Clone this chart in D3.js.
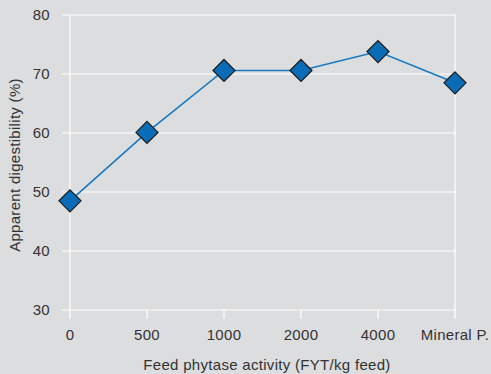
<!DOCTYPE html>
<html><head><meta charset="utf-8">
<script src="https://cdn.jsdelivr.net/npm/d3@7"></script>
<style>
html,body{margin:0;padding:0;background:#dcdddf;}
svg{display:block;font-family:"Liberation Sans",Arial,sans-serif;}
</style></head>
<body>
<svg id="chart" width="491" height="374"></svg>
<script>
const categories = ["0","500","1000","2000","4000","Mineral P."];
const values = [48.5, 60.1, 70.6, 70.6, 73.8, 68.5];
const yTicks = [30,40,50,60,70,80];
const xTitle = "Feed phytase activity (FYT/kg feed)";
const yTitle = "Apparent digestibility (%)";

(function(){
const svg = d3.select("#chart");
const mLeft = 70, mRight = 455, mTop = 15, mBottom = 310;
const x = d3.scalePoint().domain(categories).range([mLeft, mRight]);
const y = d3.scaleLinear().domain([30, 80]).range([mBottom, mTop]);
const textColor = "#333";
const fs = 15, ls = "0.3px";

// horizontal gridlines
svg.append("g").selectAll("line").data(yTicks).join("line")
  .attr("x1", mLeft - 8).attr("x2", mRight + 1)
  .attr("y1", d => y(d)).attr("y2", d => y(d))
  .attr("stroke", "#fff").attr("stroke-width", 1.2);

// left axis and right border
[mLeft, mRight].forEach(xx => {
  svg.append("line").attr("x1", xx).attr("x2", xx)
    .attr("y1", mTop).attr("y2", mBottom)
    .attr("stroke", "#fff").attr("stroke-width", 1.2);
});

// x ticks
svg.append("g").selectAll("line").data(categories).join("line")
  .attr("x1", d => x(d)).attr("x2", d => x(d))
  .attr("y1", mBottom).attr("y2", mBottom + 9)
  .attr("stroke", "#fff").attr("stroke-width", 1.2);

// y tick labels
svg.append("g").selectAll("text").data(yTicks).join("text")
  .attr("x", 50).attr("y", d => y(d)).attr("dy", "0.35em")
  .attr("text-anchor", "end").attr("font-size", fs).attr("letter-spacing", ls)
  .attr("fill", textColor).text(d => d);

// x tick labels
svg.append("g").selectAll("text").data(categories).join("text")
  .attr("x", d => x(d)).attr("y", 335).attr("dy", "0.35em")
  .attr("text-anchor", "middle").attr("font-size", fs).attr("letter-spacing", ls)
  .attr("fill", textColor).text(d => d);

// axis titles
svg.append("text").attr("x", 267).attr("y", 365).attr("dy", "0.35em")
  .attr("text-anchor", "middle").attr("font-size", fs).attr("letter-spacing", ls)
  .attr("fill", textColor).text(xTitle);
svg.append("text").attr("transform", "translate(15,165) rotate(-90)")
  .attr("dy", "0.35em").attr("text-anchor", "middle")
  .attr("font-size", fs).attr("letter-spacing", ls)
  .attr("fill", textColor).text(yTitle);

const data = categories.map((c, i) => ({c, v: values[i]}));

// line
svg.append("path").datum(data)
  .attr("d", d3.line().x(d => x(d.c)).y(d => y(d.v)))
  .attr("fill", "none").attr("stroke", "#1679c2").attr("stroke-width", 1.6);

// diamonds
svg.append("g").selectAll("path").data(data).join("path")
  .attr("transform", d => `translate(${x(d.c)},${y(d.v)})`)
  .attr("d", "M0,-11L11,0L0,11L-11,0Z")
  .attr("fill", "#0a6cb6").attr("stroke", "#1a1a1a").attr("stroke-width", 1.2);
})();
</script>
</body></html>
